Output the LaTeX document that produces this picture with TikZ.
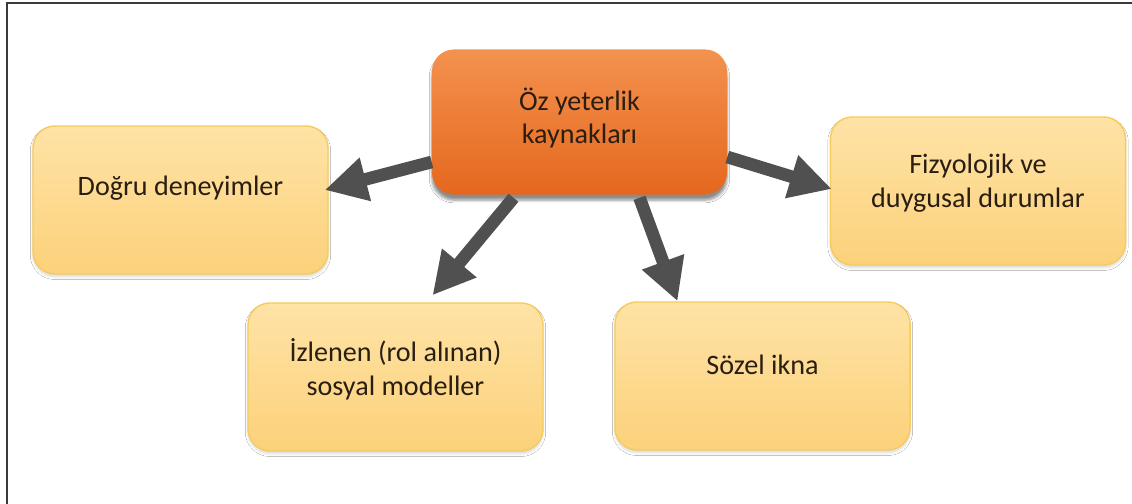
\documentclass[tikz,border=0pt]{standalone}
\usepackage{fontspec}
\setmainfont{Carlito}
\usetikzlibrary{arrows.meta,shadows.blur,calc}

\definecolor{hubtop}{HTML}{F3924F}
\definecolor{hubbot}{HTML}{E5671D}
\definecolor{leaftop}{HTML}{FEE3A6}
\definecolor{leafbot}{HTML}{FCD17A}
\definecolor{leafedge}{HTML}{F6CC5E}
\definecolor{arrowgray}{HTML}{505050}
\definecolor{inkdark}{HTML}{2A1E12}
\definecolor{framegray}{HTML}{3A3A3A}

\tikzset{
  hubbox/.style={rectangle, rounded corners=0.55cm, minimum width=7.375cm,
    minimum height=3.625cm, top color=hubtop, bottom color=hubbot, draw=none,
    blur shadow={shadow xshift=0pt, shadow yshift=-4pt, shadow opacity=45, shadow blur steps=6}},
  leafbox/.style={rectangle, rounded corners=0.55cm, minimum width=7.375cm,
    minimum height=3.7cm, top color=leaftop, bottom color=leafbot, draw=leafedge,
    line width=1pt,
    blur shadow={shadow xshift=0pt, shadow yshift=-2pt, shadow opacity=15, shadow blur steps=4}},
  boxtext/.style={align=center, text=inkdark, font=\fontsize{20}{24}\selectfont},
  fatarrow/.style={draw=arrowgray, line width=9pt,
    -{Triangle[width=1.05cm,length=1.05cm]}},
}

\begin{document}
\begin{tikzpicture}[x=0.025cm,y=-0.025cm]
  \useasboundingbox (0,0) rectangle (1132,504);
  \fill[white] (0,0) rectangle (1132,504);

  % outer frame (top and left edges)
  \draw[framegray, line width=1.6pt] (7,504) -- (7,3) -- (1132,3);

  % boxes
  \node[hubbox]  (hub) at (579.5,122) {};
  \node[leafbox] (dog) at (180.5,200) {};
  \node[leafbox] (fiz) at (978,191)   {};
  \node[leafbox] (izl) at (395.5,377) {};
  \node[leafbox] (soz) at (762.5,376) {};

  % labels, set a little above each box centre
  \node[boxtext] (thub) at ($(hub.center)+(0,-4)$)  {Öz yeterlik\\kaynakları};
  \node[boxtext] (tdog) at ($(dog.center)+(0,-12)$) {Doğru deneyimler};
  \node[boxtext] (tfiz) at ($(fiz.center)+(0,-8)$)  {Fizyolojik ve\\duygusal durumlar};
  \node[boxtext] (tizl) at ($(izl.center)+(0,-8)$)  {İzlenen (rol alınan)\\sosyal modeller};
  \node[boxtext] (tsoz) at ($(soz.center)+(0,-11)$) {Sözel ikna};

  % connectors
  \draw[fatarrow] ($(hub.west)+(0,40)$) -- ($(dog.east)+(-4,-10)$);
  \draw[fatarrow] ($(hub.east)+(0,35)$) -- ($(fiz.west)+(2,-2)$);
  \draw[fatarrow] ($(hub.south)+(-66,3)$) -- ($(izl.north)+(37,-7)$);
  \draw[fatarrow] ($(hub.south)+(60,3)$) -- ($(soz.north)+(-85,0)$);
\end{tikzpicture}
\end{document}
